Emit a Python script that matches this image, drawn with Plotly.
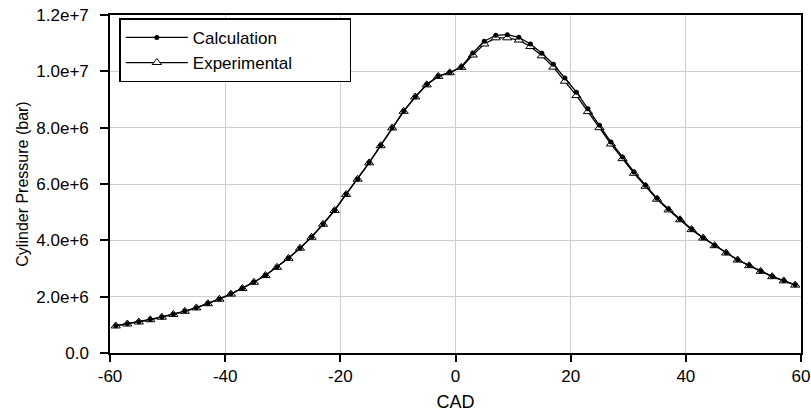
import plotly.graph_objects as go

cad = list(range(-59, 60, 2))

calculation = [
    0.97e6, 1.04e6, 1.11e6, 1.19e6, 1.28e6, 1.38e6, 1.49e6, 1.61e6, 1.76e6, 1.92e6,
    2.10e6, 2.30e6, 2.52e6, 2.76e6, 3.05e6, 3.37e6, 3.73e6, 4.12e6, 4.58e6, 5.07e6,
    5.64e6, 6.18e6, 6.76e6, 7.37e6, 8.00e6, 8.59e6, 9.10e6, 9.53e6, 9.83e6, 9.96e6,
    10.16e6, 10.65e6, 11.07e6, 11.28e6, 11.30e6, 11.21e6, 10.97e6, 10.64e6, 10.25e6, 9.76e6,
    9.26e6, 8.67e6, 8.09e6, 7.49e6, 6.96e6, 6.43e6, 5.96e6, 5.49e6, 5.11e6, 4.75e6,
    4.40e6, 4.09e6, 3.82e6, 3.56e6, 3.31e6, 3.11e6, 2.91e6, 2.72e6, 2.57e6, 2.42e6,
]

experimental = [
    0.96e6, 1.03e6, 1.10e6, 1.18e6, 1.27e6, 1.37e6, 1.48e6, 1.60e6, 1.75e6, 1.91e6,
    2.09e6, 2.29e6, 2.51e6, 2.75e6, 3.04e6, 3.36e6, 3.72e6, 4.11e6, 4.57e6, 5.06e6,
    5.63e6, 6.17e6, 6.75e6, 7.36e6, 7.99e6, 8.58e6, 9.09e6, 9.52e6, 9.82e6, 9.95e6,
    10.14e6, 10.58e6, 10.97e6, 11.19e6, 11.19e6, 11.11e6, 10.88e6, 10.55e6, 10.15e6, 9.65e6,
    9.14e6, 8.57e6, 8.00e6, 7.42e6, 6.90e6, 6.38e6, 5.92e6, 5.46e6, 5.08e6, 4.73e6,
    4.38e6, 4.08e6, 3.81e6, 3.55e6, 3.30e6, 3.10e6, 2.90e6, 2.71e6, 2.56e6, 2.41e6,
]

y_tickvals = [0, 2e6, 4e6, 6e6, 8e6, 10e6, 12e6]
y_ticktext = ["0.0", "2.0e+6", "4.0e+6", "6.0e+6", "8.0e+6", "1.0e+7", "1.2e+7"]
x_tickvals = [-60, -40, -20, 0, 20, 40, 60]
x_ticktext = ["-60", "-40", "-20", "0", "20", "40", "60"]

FONT = "Liberation Sans, Arial, sans-serif"
PAD = "\u00a0" * 11

fig = go.Figure()
fig.add_trace(go.Scatter(
    x=cad, y=experimental, name="Experimental" + PAD, mode="lines+markers",
    line=dict(color="black", width=1.3),
    marker=dict(symbol="triangle-up", size=8, color="white", line=dict(width=1, color="black")),
    legendrank=2,
))
fig.add_trace(go.Scatter(
    x=cad, y=calculation, name="Calculation", mode="lines+markers",
    line=dict(color="black", width=1.3),
    marker=dict(symbol="circle", size=5, color="black"),
    legendrank=1,
))

fig.update_layout(
    width=811, height=412,
    margin=dict(l=110, r=10, t=14.5, b=58.7),
    paper_bgcolor="white", plot_bgcolor="white",
    font=dict(family=FONT, color="black", size=16),
    showlegend=True,
    legend=dict(
        x=0.0135, y=0.99, xanchor="left", yanchor="top",
        bordercolor="black", borderwidth=1.5, bgcolor="white",
        font=dict(family=FONT, size=17, color="black"),
        itemwidth=62, tracegroupgap=0,
    ),
    xaxis=dict(
        range=[-60, 60], tickvals=x_tickvals, ticktext=x_ticktext,
        ticks="outside", ticklen=7, tickcolor="black", tickwidth=1.5,
        showline=True, linecolor="black", linewidth=1.5, mirror=True,
        showgrid=True, gridcolor="#cfcfcf", gridwidth=1.2, zeroline=False,
        tickfont=dict(size=17), ticklabelstandoff=0, automargin=False,
        title=dict(text="CAD", font=dict(size=18), standoff=14),
    ),
    yaxis=dict(
        range=[0, 1.2e7], tickvals=y_tickvals, ticktext=y_ticktext,
        ticks="outside", ticklen=8, tickcolor="black", tickwidth=1.5,
        showline=True, linecolor="black", linewidth=1.5, mirror=True,
        showgrid=True, gridcolor="#cfcfcf", gridwidth=1.2, zeroline=False,
        tickfont=dict(size=17), ticklabelstandoff=8, automargin=False,
        title=dict(text="Cylinder Pressure (bar)", font=dict(size=16), standoff=4),
    ),
)

fig.write_html("out.html")
